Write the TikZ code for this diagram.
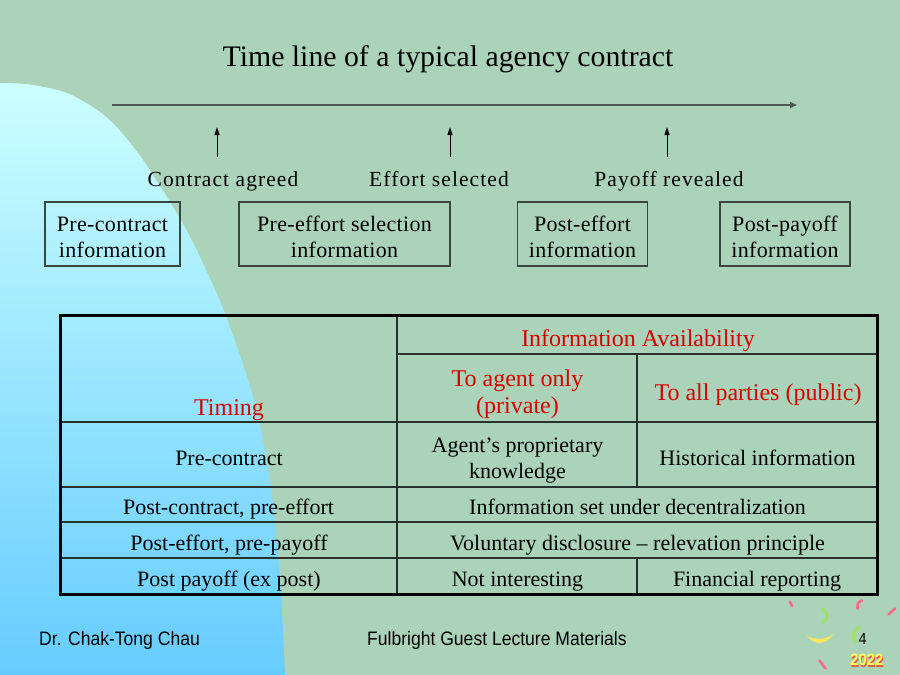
\documentclass[tikz,border=0pt]{standalone}
\usepackage{fontspec}
\setmainfont{Liberation Serif}
\newfontfamily\spacedfont[LetterSpace=5]{Liberation Serif}
\newfontfamily\boxfont[LetterSpace=1.5]{Liberation Serif}
\newfontfamily\footfont[FakeStretch=0.9]{Liberation Sans}
\usetikzlibrary{arrows.meta}
\definecolor{bggreen}{RGB}{171,211,185}
\definecolor{skytop}{RGB}{204,255,255}
\definecolor{skybot}{RGB}{102,204,255}
\definecolor{hdred}{RGB}{215,0,0}
\definecolor{lineg}{RGB}{75,90,80}
\definecolor{boxline}{RGB}{60,70,64}
\definecolor{gridline}{RGB}{40,50,45}
\definecolor{confpink}{RGB}{255,105,140}
\definecolor{confgreen}{RGB}{160,225,110}
\definecolor{confyellow}{RGB}{255,232,90}
\definecolor{yrshadow}{RGB}{235,90,60}
\definecolor{yryellow}{RGB}{255,255,90}
\newcommand\boxstrut{\rule{0pt}{21pt}}
\tikzset{
  timeline/.style={draw=lineg, line width=1.6pt, -{Triangle[length=7pt,width=6pt]}},
  evarrow/.style={draw=black, line width=1pt, -{Triangle[length=8pt,width=5pt]}},
  evlabel/.style={anchor=base, inner sep=0pt, font=\spacedfont\fontsize{21.5}{25}\selectfont},
  infobox/.style={draw=boxline, line width=1.2pt, align=center, inner sep=0pt,
    font=\boxfont\fontsize{22}{26}\selectfont, minimum height=64pt},
  cell/.style={anchor=base, inner sep=0pt, font=\fontsize{22}{26}\selectfont},
  hdr/.style={anchor=base, inner sep=0pt, text=hdred, font=\fontsize{24}{27}\selectfont},
  gridrule/.style={draw=gridline, line width=1.5pt},
  outerrule/.style={draw=black, line width=3pt},
  foot/.style={anchor=base west, inner sep=0pt, font=\footfont\fontsize{19.5}{22}\selectfont},
  confetti/.style={line width=2.6pt, line cap=round},
}
\begin{document}
\begin{tikzpicture}[x=1pt,y=-1pt]
\useasboundingbox (0,0) rectangle (900,675);
% background
\fill[bggreen] (0,0) rectangle (900,675);
\shade[top color=skytop, bottom color=skybot]
  plot[smooth, tension=0.5] coordinates {(0,83) (30,84.5) (67,93) (100,112) (122,133) (143,160) (162,189) (182,222) (200,257) (226,316) (254,400) (270,480) (280,580) (285,675)}
  -- (0,675) -- cycle;

% title
\node[anchor=base, inner sep=0pt, font=\fontsize{29.8}{34}\selectfont] (title) at (448,66) {Time line of a typical agency contract};

% timeline
\coordinate (tlstart) at (112,105);
\coordinate (tlend) at (797,105);
\draw[timeline] (tlstart) -- (tlend);

\coordinate (a1s) at (217,157); \coordinate (a1e) at (217,127);
\coordinate (a2s) at (450,157); \coordinate (a2e) at (450,127);
\coordinate (a3s) at (667,157); \coordinate (a3e) at (667,127);
\draw[evarrow] (a1s) -- (a1e);
\draw[evarrow] (a2s) -- (a2e);
\draw[evarrow] (a3s) -- (a3e);

\node[evlabel] (ev1) at (223,186) {Contract agreed};
\node[evlabel] (ev2) at (439,186) {Effort selected};
\node[evlabel] (ev3) at (669,186) {Payoff revealed};

% information boxes
\node[infobox, minimum width=135pt] (b1) at (112.5,234) {\boxstrut Pre-contract\\information};
\node[infobox, minimum width=211pt] (b2) at (344.5,234) {\boxstrut Pre-effort selection\\information};
\node[infobox, minimum width=130pt] (b3) at (582.5,234) {\boxstrut Post-effort\\information};
\node[infobox, minimum width=130pt] (b4) at (785,234) {\boxstrut Post-payoff\\information};

% table grid
\draw[gridrule] (397,354) -- (877,354);
\draw[gridrule] (60,422) -- (877,422);
\draw[gridrule] (60,487) -- (877,487);
\draw[gridrule] (60,522) -- (877,522);
\draw[gridrule] (60,558) -- (877,558);
\draw[gridrule] (397,315) -- (397,594);
\draw[gridrule] (637,354) -- (637,487);
\draw[gridrule] (637,558) -- (637,594);
\draw[outerrule] (60,315) rectangle (877,594);

% table headers
\node[hdr] (hinfo) at (638,346) {Information Availability};
\node[hdr] (hagent1) at (517.5,386) {To agent only};
\node[hdr] (hagent2) at (517.5,413) {(private)};
\node[hdr] (hpublic) at (758,400) {To all parties (public)};
\node[hdr] (htiming) at (229,415) {Timing};

% table body
\node[cell] (r1a) at (229,465) {Pre-contract};
\node[cell] (r1b1) at (517.5,452) {Agent’s proprietary};
\node[cell] (r1b2) at (517.5,478) {knowledge};
\node[cell] (r1c) at (757.5,465) {Historical information};
\node[cell] (r2a) at (228.5,514.5) {Post-contract, pre-effort};
\node[cell] (r2b) at (637.5,514.5) {Information set under decentralization};
\node[cell] (r3a) at (229,550.5) {Post-effort, pre-payoff};
\node[cell] (r3b) at (637.5,550.5) {Voluntary disclosure – relevation principle};
\node[cell] (r4a) at (229,586.5) {Post payoff (ex post)};
\node[cell] (r4b) at (517.5,586.5) {Not interesting};
\node[cell] (r4c) at (757,586.5) {Financial reporting};

% footer
\node[foot] (author) at (39,645.7) {Dr. Chak-Tong Chau};
\node[foot] (course) at (367,645.5) {Fulbright Guest Lecture Materials};
\node[anchor=base west, inner sep=0pt, font=\footfont\fontsize{16}{18}\selectfont] (pagenum) at (858.5,644) {4};

% confetti
\draw[confetti, confpink] (789.8,601.8) -- (792.2,606.2);
\draw[confetti, confpink] (862,600.5) .. controls (857.5,602.5) .. (857.5,608.5);
\draw[confetti, confpink] (888.5,614.5) -- (895,608.5);
\draw[confetti, confpink] (819.5,660.5) -- (825.5,668.5);
\draw[confetti, confgreen, line width=3pt] (822,608.5) .. controls (829,613) and (828,619) .. (823,622.5);
\fill[confyellow] (807,636) .. controls (815,646) and (826,645) .. (833.5,634)
  .. controls (826,640) and (815,640.5) .. cycle;
\draw[confetti, confgreen, line width=3.2pt] (859,627) .. controls (853,631) and (852,637) .. (855.5,642.5);

% year badge
\node[anchor=base west, inner sep=0pt, text=yrshadow, font=\footfont\bfseries\fontsize{16.5}{18}\selectfont] (yearshadow) at (851,667) {2022};
\node[anchor=base west, inner sep=0pt, text=yryellow, font=\footfont\bfseries\fontsize{16.5}{18}\selectfont] (year) at (850.2,665.8) {2022};
\end{tikzpicture}
\end{document}
